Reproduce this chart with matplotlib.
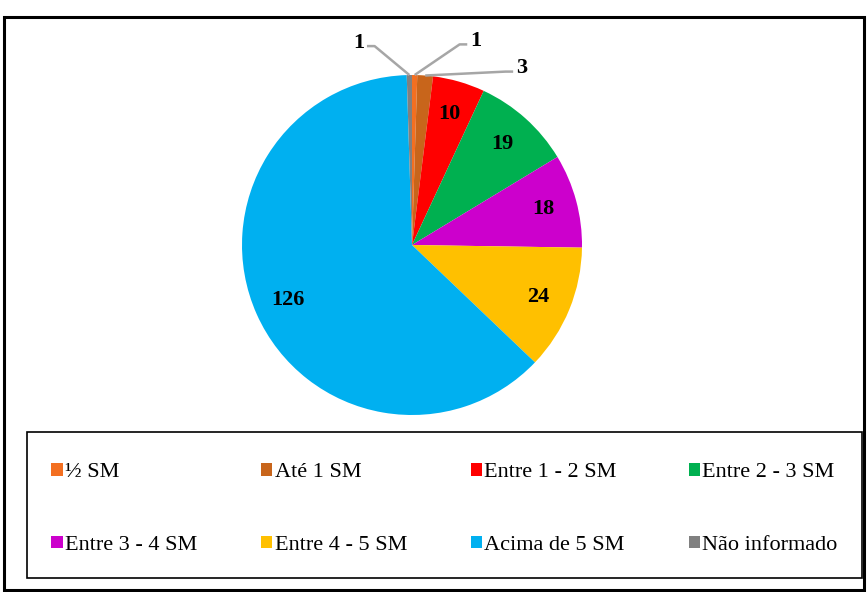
import numpy as np
import matplotlib.pyplot as plt
from matplotlib.patches import Rectangle

categories = ["½ SM", "Até 1 SM", "Entre 1 - 2 SM", "Entre 2 - 3 SM",
              "Entre 3 - 4 SM", "Entre 4 - 5 SM", "Acima de 5 SM", "Não informado"]
values = [1, 3, 10, 19, 18, 24, 126, 1]
colors = ["#F36F21", "#C8651B", "#FF0000", "#00B050",
          "#CC00CC", "#FFC000", "#00B0F0", "#808080"]

plt.rcParams['font.family'] = ['Liberation Serif', 'DejaVu Serif']

W, H = 867, 592
fig = plt.figure(figsize=(W / 100, H / 100), dpi=100)

# outer frame
fig.patches.append(Rectangle((4 / W, 2 / H), 860 / W, 573 / H, transform=fig.transFigure,
                             fill=False, edgecolor="black", linewidth=2.2))

# pie axes: centre (412, 245) px, radius 170 px
cx, cy, r = 412, 245, 170
ax = fig.add_axes([(cx - r) / W, (H - cy - r) / H, 2 * r / W, 2 * r / H])
wedges, _ = ax.pie(values, colors=colors, startangle=90, counterclock=False,
                   radius=1, wedgeprops=dict(linewidth=0))
ax.set_xlim(-1, 1)
ax.set_ylim(-1, 1)
ax.set_aspect('equal')
ax.axis('off')

# outside labels for the tiny slices (index -> text position)
outside = {7: (-0.27, 1.19), 0: (0.33, 1.2), 1: (0.60, 1.04)}
for i, (w, v) in enumerate(zip(wedges, values)):
    mid = np.deg2rad((w.theta1 + w.theta2) / 2)
    if i in outside:
        tx, ty = outside[i]
        ex, ey = np.cos(mid), np.sin(mid)
        ha = "right" if tx < 0 else "left"
        stub = -0.05 if tx < 0 else 0.05
        ax.plot([ex, tx - stub, tx - stub * 0.1], [ey, ty - 0.02, ty - 0.02],
                color="#A6A6A6", lw=1.8, clip_on=False, solid_capstyle="butt")
        ax.text(tx + stub * 0.2, ty, str(v), ha=ha, va="center", fontsize=16,
                fontweight="bold", color="black")
    else:
        d = 0.8
        ax.text(d * np.cos(mid), d * np.sin(mid), str(v), ha="center", va="center",
                fontsize=16, fontweight="bold", color="black")

# legend box
lx0, ly0, lx1, ly1 = 27, 432, 862, 578
fig.patches.append(Rectangle((lx0 / W, (H - ly1) / H), (lx1 - lx0) / W, (ly1 - ly0) / H,
                             transform=fig.transFigure, fill=False,
                             edgecolor="black", linewidth=1.2))
order = [0, 4, 1, 5, 2, 6, 3, 7]
handles = [Rectangle((0, 0), 1, 1, facecolor=colors[k], edgecolor="none") for k in order]
labels = [categories[k] for k in order]
fig.legend(handles, labels, ncol=4, loc="center", frameon=False,
           bbox_to_anchor=(lx0 / W, (H - ly1 - 4) / H, (lx1 - lx0) / W, (ly1 - ly0) / H),
           mode="expand", fontsize=16, handlelength=0.5, handleheight=0.5,
           handletextpad=0.1, labelspacing=2.4, borderpad=0.5, borderaxespad=0.6)

fig.savefig("out.png", dpi=100)
